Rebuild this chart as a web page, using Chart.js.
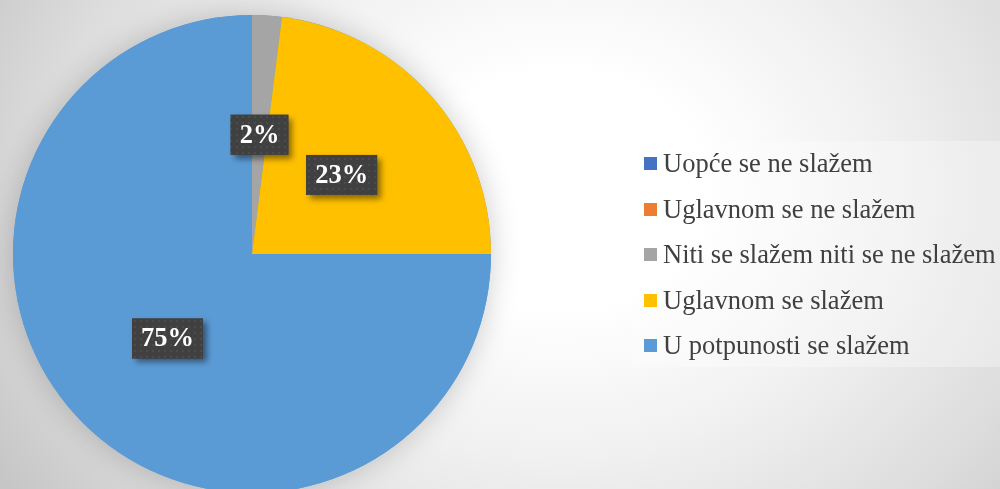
<!DOCTYPE html>
<html>
<head>
<meta charset="utf-8">
<script src="https://cdn.jsdelivr.net/npm/chart.js"></script>
<style>
  html, body { margin: 0; padding: 0; width: 1000px; height: 489px; overflow: hidden; }
  body {
    position: relative;
    background: radial-gradient(ellipse 660px 540px at 560px 190px, #ffffff 0%, #ffffff 22%, #f0f0f0 50%, #dcdcdc 78%, #c6c6c6 100%);
  }
  #myPie { position: absolute; left: 0; top: 0; }
  #legenda {
    position: absolute; left: 632px; top: 141px; width: 368px; height: 226px;
    background: rgba(255, 255, 255, 0.3);
    font-family: "Liberation Serif", "Times New Roman", serif; font-size: 26.5px; color: #404040;
  }
  #legenda .item { height: 45.5px; line-height: 45.5px; white-space: nowrap; position: relative; padding-left: 31px; }
  #legenda .box { position: absolute; left: 12px; top: 16px; width: 13px; height: 13px; }
</style>
</head>
<body>
<canvas id="myPie" width="1000" height="500"></canvas>
<div id="legenda"></div>
<script>
const kategorije = ['Uopće se ne slažem', 'Uglavnom se ne slažem', 'Niti se slažem niti se ne slažem', 'Uglavnom se slažem', 'U potpunosti se slažem'];
const postoci = [0, 0, 2, 23, 75];
const boje = ['#4472C4', '#ED7D31', '#A5A5A5', '#FFC000', '#5B9BD5'];

// legenda (html)
const leg = document.getElementById('legenda');
kategorije.forEach(function (k, i) {
  const d = document.createElement('div');
  d.className = 'item';
  d.innerHTML = '<span class="box" style="background:' + boje[i] + '"></span>' + k;
  leg.appendChild(d);
});

// uzorak tockica za oznake
const pat = document.createElement('canvas');
pat.width = 6; pat.height = 6;
const pctx = pat.getContext('2d');
pctx.fillStyle = '#404040';
pctx.fillRect(0, 0, 6, 6);
pctx.fillStyle = '#4b4b4b';
pctx.fillRect(2, 2, 2, 2);

const oznake = {
  id: 'oznake',
  beforeDatasetsDraw(chart) {
    const arc = chart.getDatasetMeta(0).data[4];
    const ctx = chart.ctx;
    ctx.save();
    ctx.shadowColor = 'rgba(0,0,0,0.2)';
    ctx.shadowBlur = 30;
    ctx.fillStyle = boje[4];
    ctx.beginPath();
    ctx.arc(arc.x, arc.y, arc.outerRadius, 0, Math.PI * 2);
    ctx.fill();
    ctx.restore();
  },
  afterDatasetsDraw(chart) {
    const ctx = chart.ctx;
    const meta = chart.getDatasetMeta(0);
    ctx.save();
    ctx.font = 'bold 26.5px "Liberation Serif", "Times New Roman", serif';
    ctx.textAlign = 'center';
    ctx.textBaseline = 'middle';
    meta.data.forEach(function (arc, i) {
      if (!postoci[i]) return;
      const p = arc.tooltipPosition();
      const txt = postoci[i] + '%';
      const w = ctx.measureText(txt).width + 18;
      const h = 40;
      ctx.save();
      ctx.shadowColor = 'rgba(0,0,0,0.45)';
      ctx.shadowBlur = 6;
      ctx.shadowOffsetX = 4;
      ctx.shadowOffsetY = 4;
      ctx.fillStyle = '#404040';
      ctx.fillRect(p.x - w / 2, p.y - h / 2, w, h);
      ctx.restore();
      ctx.fillStyle = ctx.createPattern(pat, 'repeat');
      ctx.fillRect(p.x - w / 2, p.y - h / 2, w, h);
      ctx.fillStyle = '#ffffff';
      ctx.fillText(txt, p.x, p.y + 1);
    });
    ctx.restore();
  }
};

const ctx1 = document.getElementById('myPie').getContext('2d');
const myPie = new Chart(ctx1, {
  type: 'pie',
  data: {
    labels: kategorije,
    datasets: [{
      data: postoci,
      backgroundColor: boje,
      borderWidth: 0
    }]
  },
  options: {
    responsive: false,
    animation: false,
    layout: { padding: { top: 15, left: 12, right: 508, bottom: 7 } },
    plugins: {
      legend: { display: false },
      tooltip: { enabled: false }
    }
  },
  plugins: [oznake]
});
</script>
</body>
</html>
